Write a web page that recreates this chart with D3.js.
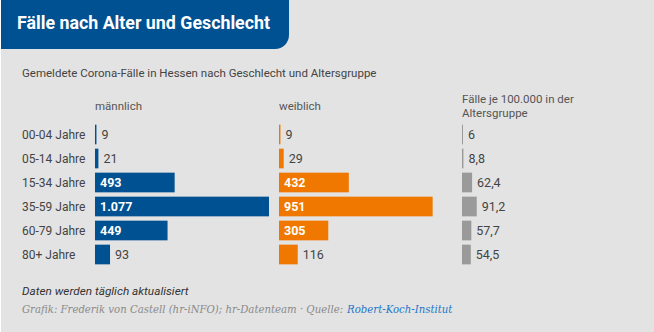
<!DOCTYPE html>
<html><head><meta charset="utf-8">
<script src="https://cdn.jsdelivr.net/npm/d3@7"></script>
<style>
html,body{margin:0;padding:0;background:#fff;}
svg{display:block;}
</style></head>
<body>
<script>
const ageGroups = ["00-04 Jahre","05-14 Jahre","15-34 Jahre","35-59 Jahre","60-79 Jahre","80+ Jahre"];
const maleCases = [9,21,493,1077,449,93];
const femaleCases = [9,29,432,951,305,116];
const per100k = [6,8.8,62.4,91.2,57.7,54.5];
const columnTitles = ["männlich","weiblich","Fälle je 100.000 in der|Altersgruppe"];

const W=654,H=332;
const svg=d3.select("body").append("svg").attr("width",W).attr("height",H);
svg.append("rect").attr("x",1).attr("y",0).attr("width",W-1).attr("height",H).attr("fill","#e3e3e3");

const bw=289,bh=49,r=14;
svg.append("path").attr("d",`M1,0H${bw}V${bh-r}A${r},${r} 0 0 1 ${bw-r},${bh}H1Z`).attr("fill","#005192");
svg.append("text").attr("x",17).attr("y",29).attr("fill","#fff")
  .attr("font-family","Roboto").attr("font-weight","bold").attr("font-size",18.5)
  .attr("textLength",253).attr("lengthAdjust","spacingAndGlyphs")
  .text("Fälle nach Alter und Geschlecht");

svg.append("text").attr("x",22).attr("y",77).attr("fill","#444")
  .attr("font-family","Roboto").attr("font-size",11.5)
  .text("Gemeldete Corona-Fälle in Hessen nach Geschlecht und Altersgruppe");

const y=d3.scaleBand().domain(ageGroups).range([122.5,266.5]).paddingInner(0.18).paddingOuter(0.09);
const x=d3.scaleLinear().domain([0,1077]).range([0,174]);
const colX=[95,279,462];
const colors=["#005192","#f07800","#9a9a9a"];
const series=[maleCases,femaleCases,per100k];
const de=s=>s.replace(/,/g,"#").replace(/\./g,",").replace(/#/g,".");

columnTitles.forEach((t,i)=>{
  const lines=t.split("|");
  const tx=svg.append("text").attr("x",colX[i]).attr("y",lines.length>1?103:110)
    .attr("fill","#555").attr("font-family","Roboto").attr("font-size",11.5);
  lines.forEach((l,j)=>tx.append("tspan").attr("x",colX[i]).attr("dy",j?14:0).text(l));
});

svg.selectAll("text.age").data(ageGroups).join("text").attr("class","age")
  .attr("x",22).attr("y",d=>y(d)+y.bandwidth()/2).attr("dy","0.36em")
  .attr("fill","#444").attr("font-family","Roboto").attr("font-size",12).text(d=>d);

series.forEach((vals,i)=>{
  const g=svg.append("g").attr("transform",`translate(${colX[i]},0)`);
  g.selectAll("rect").data(vals).join("rect")
    .attr("x",0).attr("y",(d,k)=>y(ageGroups[k])).attr("height",y.bandwidth())
    .attr("width",d=>Math.max(1,x(d))).attr("fill",colors[i]);
  g.selectAll("text").data(vals).join("text")
    .attr("x",d=>x(d)>40?5:Math.max(1,x(d))+5)
    .attr("y",(d,k)=>y(ageGroups[k])+y.bandwidth()/2).attr("dy","0.36em")
    .attr("font-family","Roboto").attr("font-size",12.5)
    .attr("font-weight",d=>x(d)>40?"bold":"normal")
    .attr("fill",d=>x(d)>40?"#fff":"#444")
    .text(d=>i<2?de(d3.format(",d")(d)):String(d).replace(".",","));
});

svg.append("text").attr("x",22).attr("y",295).attr("fill","#333")
  .attr("font-family","Roboto").attr("font-style","italic").attr("font-size",11.8)
  .text("Daten werden täglich aktualisiert");

const srcFont="'DejaVu Serif Condensed','DejaVu Serif',serif";
const t1=svg.append("text").attr("x",22).attr("y",313).attr("fill","#8a8a8a")
  .attr("font-family",srcFont).attr("font-style","italic").attr("font-size",12)
  .text("Grafik: Frederik von Castell (hr-iNFO); hr-Datenteam · Quelle:");
const t2=svg.append("text").attr("y",313).attr("fill","#1f76c9")
  .attr("font-family",srcFont).attr("font-style","italic").attr("font-size",12)
  .text("Robert-Koch-Institut");
const gap=4;
const w1=t1.node().getComputedTextLength(), w2=t2.node().getComputedTextLength();
const fs=Math.min(13.5,12*(431-gap)/(w1+w2));
t1.attr("font-size",fs); t2.attr("font-size",fs);
t2.attr("x",22+t1.node().getComputedTextLength()+gap);
</script>
</body></html>
